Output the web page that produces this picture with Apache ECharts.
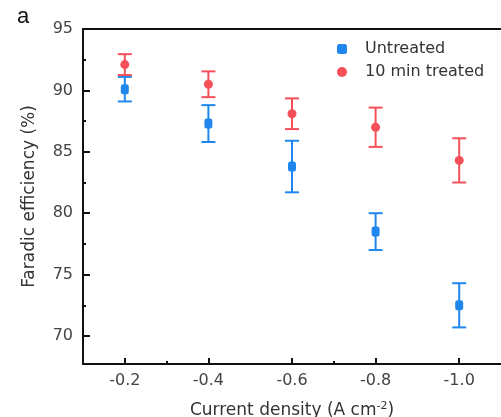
<!DOCTYPE html>
<html>
<head>
<meta charset="utf-8">
<script src="https://cdn.jsdelivr.net/npm/echarts@6/dist/echarts.min.js"></script>
<style>
html, body { margin: 0; padding: 0; background: #fff; }
#main { width: 501px; height: 417px; }
</style>
</head>
<body>
<div id="main"></div>
<script>
// current density (A cm-2)
var density = [-0.2, -0.4, -0.6, -0.8, -1.0];
// faradic efficiency (%)
var untreated = [90.1, 87.3, 83.8, 78.5, 72.5];
var untreatedErr = [1.0, 1.5, 2.1, 1.5, 1.8];
var treated = [92.1, 90.5, 88.1, 87.0, 84.3];
var treatedErr = [0.85, 1.05, 1.25, 1.6, 1.8];
var yTicks = [70, 75, 80, 85, 90, 95];
var yMinor = [72.5, 77.5, 82.5, 87.5, 92.5];
var xMinor = [-0.3, -0.7];

var blue = '#1f87ee';
var red = '#f5505a';
var font = 'DejaVu Sans, sans-serif';

var chart = echarts.init(document.getElementById('main'));

function pairs(xs, ys) {
    return xs.map(function (x, i) { return [x, ys[i]]; });
}
function errData(xs, ys, es) {
    return xs.map(function (x, i) { return [x, ys[i] - es[i], ys[i] + es[i]]; });
}
function errBar(color) {
    return function (params, api) {
        var lo = api.coord([api.value(0), api.value(1)]);
        var hi = api.coord([api.value(0), api.value(2)]);
        var w = 7;
        var st = { stroke: color, lineWidth: 2 };
        return {
            type: 'group',
            children: [
                { type: 'line', shape: { x1: lo[0], y1: lo[1], x2: hi[0], y2: hi[1] }, style: st },
                { type: 'line', shape: { x1: lo[0] - w, y1: lo[1], x2: lo[0] + w, y2: lo[1] }, style: st },
                { type: 'line', shape: { x1: hi[0] - w, y1: hi[1], x2: hi[0] + w, y2: hi[1] }, style: st }
            ]
        };
    };
}

var xBase = {
    type: 'value', min: -1.1, max: -0.1, inverse: true,
    splitLine: { show: false }
};
var yBase = {
    type: 'value', min: 67.72, max: 95,
    splitLine: { show: false }
};

var option = {
    animation: false,
    backgroundColor: '#fff',
    textStyle: { fontFamily: font },
    graphic: [{
        type: 'text', left: 17, top: 6,
        style: { text: 'a', fontSize: 22, fill: '#111', fontFamily: 'Liberation Sans, Arial, sans-serif' }
    }],
    grid: { left: 83, right: 0, top: 29, bottom: 53, outerBoundsMode: 'none', containLabel: false },
    legend: {
        orient: 'vertical',
        left: 332, top: 36,
        itemWidth: 10, itemHeight: 10, itemGap: 7,
        textStyle: { fontSize: 16, color: '#333', fontFamily: font, padding: [0, 0, 0, 13] },
        data: [
            { name: 'Untreated', icon: 'roundRect' },
            { name: '10 min treated', icon: 'circle' }
        ]
    },
    xAxis: [
        Object.assign({}, xBase, {
            position: 'bottom',
            name: 'Current density (A cm{sup|-2})',
            nameLocation: 'middle', nameGap: 37,
            nameTextStyle: {
                fontSize: 17, color: '#333', fontFamily: font,
                rich: { sup: { fontSize: 11, verticalAlign: 'top', padding: [0, 0, 9, 0], color: '#333', fontFamily: font } }
            },
            axisLine: { lineStyle: { color: '#111', width: 2 } },
            axisTick: { inside: true, length: 6, lineStyle: { width: 2, color: '#111' }, customValues: density },
            axisLabel: {
                customValues: density, fontSize: 16, color: '#444', margin: 9,
                formatter: function (v) { return v.toFixed(1); }
            }
        }),
        Object.assign({}, xBase, {
            position: 'bottom', offset: 0,
            axisLine: { show: false },
            axisTick: { inside: true, length: 3, lineStyle: { width: 2, color: '#111' }, customValues: xMinor },
            axisLabel: { show: false }
        }),
        Object.assign({}, xBase, {
            position: 'top',
            axisLine: { lineStyle: { color: '#111', width: 2 } },
            axisTick: { show: false },
            axisLabel: { show: false }
        })
    ],
    yAxis: [
        Object.assign({}, yBase, {
            position: 'left',
            name: 'Faradic efficiency (%)',
            nameLocation: 'middle', nameGap: 45,
            nameTextStyle: { fontSize: 17, color: '#333', fontFamily: font },
            axisLine: { lineStyle: { color: '#111', width: 2 } },
            axisTick: { inside: true, length: 7, lineStyle: { width: 2, color: '#111' }, customValues: yTicks },
            axisLabel: { customValues: yTicks, fontSize: 16, color: '#444', margin: 10 }
        }),
        Object.assign({}, yBase, {
            position: 'left', offset: 0,
            axisLine: { show: false },
            axisTick: { inside: true, length: 3, lineStyle: { width: 2, color: '#111' }, customValues: yMinor },
            axisLabel: { show: false }
        })
    ],
    series: [
        {
            type: 'custom', renderItem: errBar(blue),
            data: errData(density, untreated, untreatedErr), z: 2, silent: true
        },
        {
            type: 'custom', renderItem: errBar(red),
            data: errData(density, treated, treatedErr), z: 2, silent: true
        },
        {
            name: 'Untreated', type: 'scatter', symbol: 'roundRect', symbolSize: [8, 10],
            itemStyle: { color: blue, opacity: 1 }, data: pairs(density, untreated), z: 3
        },
        {
            name: '10 min treated', type: 'scatter', symbol: 'circle', symbolSize: 9,
            itemStyle: { color: red, opacity: 1 }, data: pairs(density, treated), z: 3
        }
    ]
};

chart.setOption(option);
</script>
</body>
</html>
